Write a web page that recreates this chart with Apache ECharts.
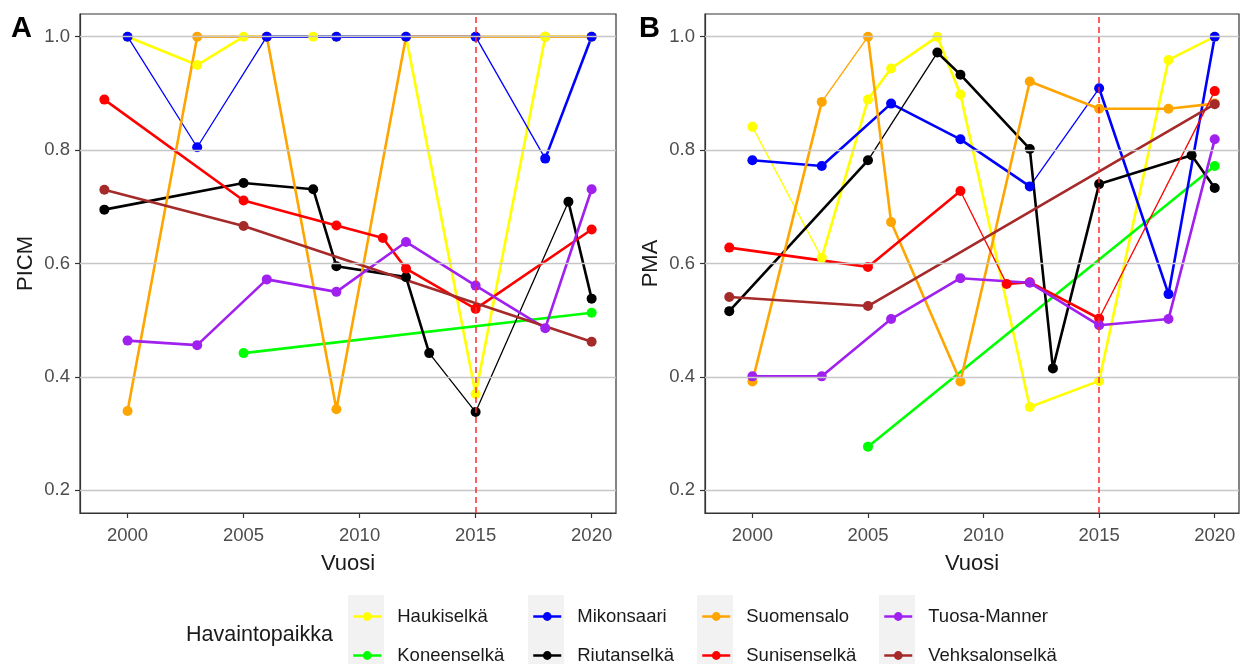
<!DOCTYPE html>
<html>
<head>
<meta charset="utf-8">
<script src="https://cdn.jsdelivr.net/npm/echarts@6/dist/echarts.min.js"></script>
<style>html,body{margin:0;padding:0;background:#fff}#c{width:1240px;height:664px}</style>
</head>
<body>
<div id="c"></div>
<script>
// ---- data ----
const sites = ['Haukiselkä','Koneenselkä','Mikonsaari','Riutanselkä','Suomensalo','Sunisenselkä','Tuosa-Manner','Vehksalonselkä'];
const siteColors = ['#FFFF00','#00FF00','#0000FF','#000000','#FFA500','#FF0000','#A020F0','#A52A2A'];
const xTicks = [2000, 2005, 2010, 2015, 2020];
const yTicks = [0.2, 0.4, 0.6, 0.8, 1.0];
const refYear = 2015;

// Panel A (PICM)
const haukiselkaA_years = [2000,2003,2005,2008,2009,2012,2015,2018,2020];
const haukiselkaA_vals  = [1.0,0.95,1.0,1.0,1.0,1.0,0.37,1.0,1.0];
const koneenselkaA_years = [2005,2020];
const koneenselkaA_vals  = [0.442,0.513];
const mikonsaariA_years = [2000,2003,2006,2009,2012,2015,2018,2020];
const mikonsaariA_vals  = [1.0,0.805,1.0,1.0,1.0,1.0,0.785,1.0];
const riutanselkaA_years = [1999,2005,2008,2009,2012,2013,2015,2019,2020];
const riutanselkaA_vals  = [0.695,0.742,0.731,0.595,0.576,0.442,0.338,0.709,0.538];
const suomensaloA_years = [2000,2003,2006,2009,2012,2015,2018,2020];
const suomensaloA_vals  = [0.34,1.0,1.0,0.343,1.0,1.0,1.0,1.0];
const sunisenselkaA_years = [1999,2005,2009,2011,2012,2015,2020];
const sunisenselkaA_vals  = [0.889,0.711,0.667,0.645,0.591,0.52,0.66];
const tuosaMannerA_years = [2000,2003,2006,2009,2012,2015,2018,2020];
const tuosaMannerA_vals  = [0.464,0.456,0.572,0.55,0.638,0.561,0.486,0.731];
const vehksalonselkaA_years = [1999,2005,2020];
const vehksalonselkaA_vals  = [0.73,0.666,0.462];

// Panel B (PMA)
const haukiselkaB_years = [2000,2003,2005,2006,2008,2009,2012,2015,2018,2020];
const haukiselkaB_vals  = [0.841,0.61,0.889,0.944,1.0,0.898,0.347,0.393,0.959,1.0];
const koneenselkaB_years = [2005,2020];
const koneenselkaB_vals  = [0.277,0.772];
const mikonsaariB_years = [2000,2003,2006,2009,2012,2015,2018,2020];
const mikonsaariB_vals  = [0.782,0.772,0.882,0.819,0.736,0.909,0.546,1.0];
const riutanselkaB_years = [1999,2005,2008,2009,2012,2013,2015,2019,2020];
const riutanselkaB_vals  = [0.516,0.782,0.972,0.933,0.802,0.415,0.74,0.791,0.733];
const suomensaloB_years = [2000,2003,2005,2006,2009,2012,2015,2018,2020];
const suomensaloB_vals  = [0.392,0.885,1.0,0.673,0.392,0.921,0.873,0.873,0.882];
const sunisenselkaB_years = [1999,2005,2009,2011,2012,2015,2020];
const sunisenselkaB_vals  = [0.628,0.594,0.728,0.564,0.567,0.503,0.904];
const tuosaMannerB_years = [2000,2003,2006,2009,2012,2015,2018,2020];
const tuosaMannerB_vals  = [0.401,0.401,0.502,0.574,0.566,0.491,0.502,0.819];
const vehksalonselkaB_years = [1999,2005,2020];
const vehksalonselkaB_vals  = [0.541,0.525,0.881];

const panelA = [
  [haukiselkaA_years, haukiselkaA_vals], [koneenselkaA_years, koneenselkaA_vals],
  [mikonsaariA_years, mikonsaariA_vals], [riutanselkaA_years, riutanselkaA_vals],
  [suomensaloA_years, suomensaloA_vals], [sunisenselkaA_years, sunisenselkaA_vals],
  [tuosaMannerA_years, tuosaMannerA_vals], [vehksalonselkaA_years, vehksalonselkaA_vals]
];
const panelB = [
  [haukiselkaB_years, haukiselkaB_vals], [koneenselkaB_years, koneenselkaB_vals],
  [mikonsaariB_years, mikonsaariB_vals], [riutanselkaB_years, riutanselkaB_vals],
  [suomensaloB_years, suomensaloB_vals], [sunisenselkaB_years, sunisenselkaB_vals],
  [tuosaMannerB_years, tuosaMannerB_vals], [vehksalonselkaB_years, vehksalonselkaB_vals]
];

// ---- style: start years of segments drawn with a thin line ----
const thinA = {'Mikonsaari':[2000,2003,2015], 'Riutanselkä':[2013,2015]};
const thinB = {'Haukiselkä':[2000], 'Suomensalo':[2003], 'Riutanselkä':[2005], 'Mikonsaari':[2012], 'Sunisenselkä':[2009,2015]};
const pointOrder = [4,0,2,1,3,5,6,7];

const FONT = 'Liberation Sans, Arial, sans-serif';
const chart = echarts.init(document.getElementById('c'), null, {renderer:'canvas'});

const series = [];
function addPanel(p, panel, thin) {
  pointOrder.forEach(i => {
    const [xs, ys] = panel[i];
    series.push({
      type:'line', name: sites[i], xAxisIndex:p, yAxisIndex:p, z:4,
      data: xs.map((x,k)=>[x, ys[k]]),
      symbol:'circle', symbolSize:10, showSymbol:true, showAllSymbol:true,
      color: siteColors[i],
      itemStyle:{color: siteColors[i], borderWidth:0},
      lineStyle:{opacity:0, width:2.5, color: siteColors[i]},
      silent:true, animation:false, emphasis:{disabled:true}
    });
  });
  panel.forEach(([xs, ys], i) => {
    const th = thin[sites[i]] || [];
    const runs = [];
    let run = null;
    for (let k = 0; k < xs.length - 1; k++) {
      const isThin = th.includes(xs[k]);
      if (!run || run.thin !== isThin) { run = {thin:isThin, pts:[[xs[k], ys[k]]]}; runs.push(run); }
      run.pts.push([xs[k+1], ys[k+1]]);
    }
    runs.forEach(r => series.push({
      type:'line', name: sites[i], xAxisIndex:p, yAxisIndex:p, z:2,
      data: r.pts, symbol:'none', showSymbol:false, color: siteColors[i],
      lineStyle:{color: siteColors[i], width: r.thin ? 1.3 : 2.6},
      silent:true, animation:false, emphasis:{disabled:true}
    }));
  });
  series.push({
    type:'line', xAxisIndex:p, yAxisIndex:p, z:1, data:[], silent:true, animation:false,
    markLine:{silent:true, symbol:'none', animation:false, label:{show:false},
      lineStyle:{color:'#c6c6c6', width:1.3, type:'solid'},
      emphasis:{disabled:true},
      data: yTicks.map(v=>({yAxis:v}))}
  });
  series.push({
    type:'line', xAxisIndex:p, yAxisIndex:p, z:3, data:[], silent:true, animation:false,
    color:'#FF0000',
    markLine:{silent:true, symbol:'none', animation:false, label:{show:false},
      lineStyle:{color:'#FF2a2a', width:1.5, type:[6,4], opacity:1},
      emphasis:{disabled:true},
      data: [{xAxis: refYear}]}
  });
}
addPanel(0, panelA, thinA);
addPanel(1, panelB, thinB);

function xAx(p) {
  return {
    type:'value', gridIndex:p, min:1997.95, max:2021.05,
    axisLine:{show:true, onZero:false, lineStyle:{color:'#333', width:1.2}},
    axisTick:{show:true, customValues:xTicks, length:5, lineStyle:{color:'#333', width:1.2}},
    axisLabel:{customValues:xTicks, color:'#4d4d4d', fontSize:18.5, margin:13, fontFamily:FONT,
      formatter: v => String(Math.round(v))},
    splitLine:{show:false},
    name:'Vuosi', nameLocation:'middle', nameGap:40,
    nameTextStyle:{fontSize:22, color:'#1a1a1a', fontFamily:FONT}
  };
}
function yAx(p, nm) {
  return {
    type:'value', gridIndex:p, min:0.16, max:1.04,
    axisLine:{show:true, onZero:false, lineStyle:{color:'#333', width:1.2}},
    axisTick:{show:true, customValues:yTicks, length:5, lineStyle:{color:'#333', width:1.2}},
    axisLabel:{customValues:yTicks, color:'#4d4d4d', fontSize:18.5, margin:10, fontFamily:FONT,
      formatter: v => Number(v).toFixed(1)},
    splitLine:{show:false},
    name:nm, nameLocation:'middle', nameGap:43, nameRotate:90,
    nameTextStyle:{fontSize:22, color:'#1a1a1a', fontFamily:FONT}
  };
}

const legendCols = [[0,1],[2,3],[4,5],[6,7]];
const legendLeft = [352, 532, 701, 883];
const legends = legendCols.map((col, c) => ({
  orient:'vertical', left: legendLeft[c], top: 607, height: 120, padding:0,
  itemWidth:28, itemHeight:11, itemGap:20,
  data: col.map(i => sites[i]), selectedMode:false,
  lineStyle:{opacity:1, width:2.5},
  textStyle:{fontSize:18.5, color:'#1a1a1a', fontFamily:FONT, padding:[0,0,0,11]}
}));

const keyBg = legendLeft.map(x => ({
  type:'rect', left: x - 4, top: 595, shape:{width:36, height:80}, style:{fill:'#f2f2f2'}, z:-1, silent:true
}));

chart.setOption({
  backgroundColor:'#fff',
  animation:false,
  grid:[
    {left:80, top:14, width:536, height:499, show:true, borderColor:'#333', borderWidth:1.2, backgroundColor:'transparent'},
    {left:705, top:14, width:534, height:499, show:true, borderColor:'#333', borderWidth:1.2, backgroundColor:'transparent'}
  ],
  xAxis:[xAx(0), xAx(1)],
  yAxis:[yAx(0,'PICM'), yAx(1,'PMA')],
  legend: legends,
  series: series,
  graphic: keyBg.concat([
    {type:'text', left:11, top:14, style:{text:'A', font:'bold 29px '+FONT, fill:'#000'}},
    {type:'text', left:639, top:14, style:{text:'B', font:'bold 29px '+FONT, fill:'#000'}},
    {type:'text', left:186, top:624, style:{text:'Havaintopaikka', font:'21.5px '+FONT, fill:'#1a1a1a'}}
  ])
});
</script>
</body>
</html>
